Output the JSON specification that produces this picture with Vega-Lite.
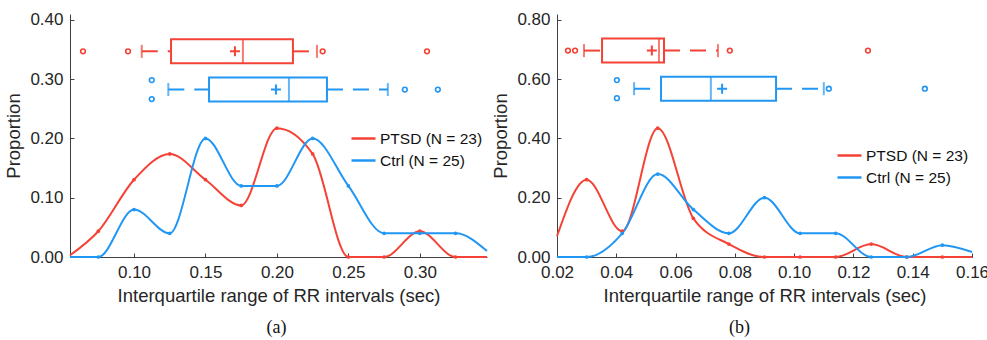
{
  "$schema": "https://vega.github.io/schema/vega-lite/v6.json",
  "padding": {"left": 4, "top": 10, "right": 0, "bottom": 0},
  "spacing": 0,
  "config": {
    "font": "Liberation Sans",
    "view": {"stroke": null},
    "axis": {
      "grid": false,
      "labelFontSize": 17,
      "titleFontSize": 18.5,
      "titleFontWeight": "normal",
      "labelColor": "#262626",
      "titleColor": "#262626",
      "domainColor": "#404040",
      "tickColor": "#404040",
      "tickSize": -4,
      "labelPadding": 11,
      "labelFlush": false,
      "labelOverlap": false,
      "domainWidth": 1,
      "labelFont": "Liberation Sans",
      "titleFont": "Liberation Sans"
    },
    "legend": {"labelFontSize": 15.5, "labelColor": "#111111", "labelFont": "Liberation Sans"}
  },
  "datasets": {
    "a_curve": [
      {"x": 0.0552, "p": 0.003, "group": "PTSD (N = 23)"},
      {"x": 0.075, "p": 0.0435, "group": "PTSD (N = 23)"},
      {"x": 0.1, "p": 0.1304, "group": "PTSD (N = 23)"},
      {"x": 0.125, "p": 0.1739, "group": "PTSD (N = 23)"},
      {"x": 0.15, "p": 0.1304, "group": "PTSD (N = 23)"},
      {"x": 0.175, "p": 0.087, "group": "PTSD (N = 23)"},
      {"x": 0.2, "p": 0.2174, "group": "PTSD (N = 23)"},
      {"x": 0.225, "p": 0.1739, "group": "PTSD (N = 23)"},
      {"x": 0.25, "p": 0.0, "group": "PTSD (N = 23)"},
      {"x": 0.275, "p": 0.0, "group": "PTSD (N = 23)"},
      {"x": 0.3, "p": 0.0435, "group": "PTSD (N = 23)"},
      {"x": 0.325, "p": 0.0, "group": "PTSD (N = 23)"},
      {"x": 0.347, "p": 0.0, "group": "PTSD (N = 23)"},
      {"x": 0.0552, "p": 0.0, "group": "Ctrl (N = 25)"},
      {"x": 0.075, "p": 0.0, "group": "Ctrl (N = 25)"},
      {"x": 0.1, "p": 0.08, "group": "Ctrl (N = 25)"},
      {"x": 0.125, "p": 0.04, "group": "Ctrl (N = 25)"},
      {"x": 0.15, "p": 0.2, "group": "Ctrl (N = 25)"},
      {"x": 0.175, "p": 0.12, "group": "Ctrl (N = 25)"},
      {"x": 0.2, "p": 0.12, "group": "Ctrl (N = 25)"},
      {"x": 0.225, "p": 0.2, "group": "Ctrl (N = 25)"},
      {"x": 0.25, "p": 0.12, "group": "Ctrl (N = 25)"},
      {"x": 0.275, "p": 0.04, "group": "Ctrl (N = 25)"},
      {"x": 0.3, "p": 0.04, "group": "Ctrl (N = 25)"},
      {"x": 0.325, "p": 0.04, "group": "Ctrl (N = 25)"},
      {"x": 0.347, "p": 0.01, "group": "Ctrl (N = 25)"}
    ],
    "a_box": [
      {"group": "PTSD (N = 23)", "ypos": 0.347, "q1": 0.1259, "med": 0.1762, "q3": 0.2112, "mean": 0.1706, "wlo": 0.1054, "whi": 0.228},
      {"group": "Ctrl (N = 25)", "ypos": 0.2825, "q1": 0.1525, "med": 0.2084, "q3": 0.235, "mean": 0.1993, "wlo": 0.124, "whi": 0.2776}
    ],
    "a_out": [
      {"group": "PTSD (N = 23)", "x": 0.0643, "y": 0.347},
      {"group": "PTSD (N = 23)", "x": 0.0958, "y": 0.347},
      {"group": "PTSD (N = 23)", "x": 0.232, "y": 0.347},
      {"group": "PTSD (N = 23)", "x": 0.305, "y": 0.347},
      {"group": "Ctrl (N = 25)", "x": 0.1124, "y": 0.2985},
      {"group": "Ctrl (N = 25)", "x": 0.1124, "y": 0.2664},
      {"group": "Ctrl (N = 25)", "x": 0.2895, "y": 0.2825},
      {"group": "Ctrl (N = 25)", "x": 0.3126, "y": 0.2825}
    ],
    "b_curve": [
      {"x": 0.02, "p": 0.07, "group": "PTSD (N = 23)"},
      {"x": 0.03, "p": 0.2609, "group": "PTSD (N = 23)"},
      {"x": 0.042, "p": 0.087, "group": "PTSD (N = 23)"},
      {"x": 0.054, "p": 0.4348, "group": "PTSD (N = 23)"},
      {"x": 0.066, "p": 0.1304, "group": "PTSD (N = 23)"},
      {"x": 0.078, "p": 0.0435, "group": "PTSD (N = 23)"},
      {"x": 0.09, "p": 0.0, "group": "PTSD (N = 23)"},
      {"x": 0.102, "p": 0.0, "group": "PTSD (N = 23)"},
      {"x": 0.114, "p": 0.0, "group": "PTSD (N = 23)"},
      {"x": 0.126, "p": 0.0435, "group": "PTSD (N = 23)"},
      {"x": 0.138, "p": 0.0, "group": "PTSD (N = 23)"},
      {"x": 0.15, "p": 0.0, "group": "PTSD (N = 23)"},
      {"x": 0.16, "p": 0.0, "group": "PTSD (N = 23)"},
      {"x": 0.02, "p": 0.0, "group": "Ctrl (N = 25)"},
      {"x": 0.03, "p": 0.0, "group": "Ctrl (N = 25)"},
      {"x": 0.042, "p": 0.08, "group": "Ctrl (N = 25)"},
      {"x": 0.054, "p": 0.28, "group": "Ctrl (N = 25)"},
      {"x": 0.066, "p": 0.16, "group": "Ctrl (N = 25)"},
      {"x": 0.078, "p": 0.08, "group": "Ctrl (N = 25)"},
      {"x": 0.09, "p": 0.2, "group": "Ctrl (N = 25)"},
      {"x": 0.102, "p": 0.08, "group": "Ctrl (N = 25)"},
      {"x": 0.114, "p": 0.08, "group": "Ctrl (N = 25)"},
      {"x": 0.126, "p": 0.0, "group": "Ctrl (N = 25)"},
      {"x": 0.138, "p": 0.0, "group": "Ctrl (N = 25)"},
      {"x": 0.15, "p": 0.04, "group": "Ctrl (N = 25)"},
      {"x": 0.16, "p": 0.017, "group": "Ctrl (N = 25)"}
    ],
    "b_box": [
      {"group": "PTSD (N = 23)", "ypos": 0.6965, "q1": 0.0352, "med": 0.0544, "q3": 0.0561, "mean": 0.052, "wlo": 0.0291, "whi": 0.0743},
      {"group": "Ctrl (N = 25)", "ypos": 0.568, "q1": 0.0551, "med": 0.0719, "q3": 0.0939, "mean": 0.0757, "wlo": 0.046, "whi": 0.11}
    ],
    "b_out": [
      {"group": "PTSD (N = 23)", "x": 0.0237, "y": 0.6965},
      {"group": "PTSD (N = 23)", "x": 0.0261, "y": 0.6965},
      {"group": "PTSD (N = 23)", "x": 0.0783, "y": 0.6965},
      {"group": "PTSD (N = 23)", "x": 0.1249, "y": 0.6965},
      {"group": "Ctrl (N = 25)", "x": 0.0402, "y": 0.597},
      {"group": "Ctrl (N = 25)", "x": 0.0402, "y": 0.536},
      {"group": "Ctrl (N = 25)", "x": 0.1117, "y": 0.568},
      {"group": "Ctrl (N = 25)", "x": 0.1441, "y": 0.568}
    ]
  },
  "resolve": {"scale": {"color": "independent", "x": "independent", "y": "independent"}, "legend": {"color": "independent"}},
  "hconcat": [
    {
      "width": 417,
      "height": 243,
      "title": {"text": "(a)", "orient": "bottom", "anchor": "middle", "frame": "group", "font": "Liberation Serif", "fontSize": 18, "fontWeight": "normal", "color": "#111111", "offset": 14, "dx": -2},
      "encoding": {
        "color": {"field": "group", "type": "nominal", "scale": {"domain": ["PTSD (N = 23)", "Ctrl (N = 25)"], "range": ["#F44336", "#2196F3"]}, "legend": null}
      },
      "layer": [
        {
          "data": {"name": "a_curve"},
          "mark": {"type": "line", "interpolate": "monotone", "strokeWidth": 2},
          "encoding": {
            "x": {"field": "x", "type": "quantitative", "scale": {"domain": [0.0552, 0.347], "nice": false, "zero": false, "padding": 0}, "axis": {"values": [0.1, 0.15, 0.2, 0.25, 0.3], "format": ".2f", "title": "Interquartile range of RR intervals (sec)", "titlePadding": 6}},
            "y": {"field": "p", "type": "quantitative", "scale": {"domain": [0, 0.41], "nice": false, "padding": 0}, "axis": {"values": [0, 0.1, 0.2, 0.3, 0.4], "format": ".2f", "title": "Proportion", "titlePadding": 6}},
            "color": {"field": "group", "type": "nominal", "legend": {"orient": "none", "legendX": 280, "legendY": 111, "title": null, "symbolType": "stroke", "symbolSize": 576, "symbolStrokeWidth": 2.5, "labelOffset": 3, "rowPadding": -2}}
          }
        },
        {
          "data": {"name": "a_curve"},
          "transform": [{"filter": "datum.x > 0.06 && datum.x < 0.34"}],
          "mark": {"type": "point", "filled": true, "size": 14, "opacity": 1},
          "encoding": {"x": {"field": "x", "type": "quantitative"}, "y": {"field": "p", "type": "quantitative"}}
        },
        {
          "data": {"name": "a_box"},
          "mark": {"type": "rule", "strokeWidth": 2, "strokeDash": [16, 10]},
          "encoding": {"x": {"field": "wlo", "type": "quantitative"}, "x2": {"field": "q1"}, "y": {"field": "ypos", "type": "quantitative"}}
        },
        {
          "data": {"name": "a_box"},
          "mark": {"type": "rule", "strokeWidth": 2, "strokeDash": [16, 10]},
          "encoding": {"x": {"field": "q3", "type": "quantitative"}, "x2": {"field": "whi"}, "y": {"field": "ypos", "type": "quantitative"}}
        },
        {
          "data": {"name": "a_box"},
          "mark": {"type": "bar", "orient": "horizontal", "filled": false, "fill": "white", "strokeWidth": 2, "size": 24},
          "encoding": {"x": {"field": "q1", "type": "quantitative"}, "x2": {"field": "q3"}, "y": {"field": "ypos", "type": "quantitative"}, "stroke": {"field": "group", "type": "nominal", "scale": {"domain": ["PTSD (N = 23)", "Ctrl (N = 25)"], "range": ["#F44336", "#2196F3"]}, "legend": null}}
        },
        {
          "data": {"name": "a_box"},
          "transform": [{"fold": ["med"], "as": ["k", "v"]}],
          "mark": {"type": "tick", "orient": "vertical", "thickness": 2, "size": 24},
          "encoding": {"x": {"field": "v", "type": "quantitative"}, "y": {"field": "ypos", "type": "quantitative"}}
        },
        {
          "data": {"name": "a_box"},
          "transform": [{"fold": ["wlo", "whi"], "as": ["k", "v"]}],
          "mark": {"type": "tick", "orient": "vertical", "thickness": 2, "size": 13},
          "encoding": {"x": {"field": "v", "type": "quantitative"}, "y": {"field": "ypos", "type": "quantitative"}}
        },
        {
          "data": {"name": "a_box"},
          "mark": {"type": "point", "shape": "M-1,0H1M0,-1V1", "filled": false, "strokeWidth": 2, "size": 100, "opacity": 1},
          "encoding": {"x": {"field": "mean", "type": "quantitative"}, "y": {"field": "ypos", "type": "quantitative"}}
        },
        {
          "data": {"name": "a_out"},
          "mark": {"type": "point", "filled": false, "strokeWidth": 1.6, "size": 22, "opacity": 1},
          "encoding": {"x": {"field": "x", "type": "quantitative"}, "y": {"field": "y", "type": "quantitative"}}
        }
      ]
    },
    {
      "width": 415,
      "height": 243,
      "title": {"text": "(b)", "orient": "bottom", "anchor": "middle", "frame": "group", "font": "Liberation Serif", "fontSize": 18, "fontWeight": "normal", "color": "#111111", "offset": 14, "dx": -25},
      "encoding": {
        "color": {"field": "group", "type": "nominal", "scale": {"domain": ["PTSD (N = 23)", "Ctrl (N = 25)"], "range": ["#F44336", "#2196F3"]}, "legend": null}
      },
      "layer": [
        {
          "data": {"name": "b_curve"},
          "mark": {"type": "line", "interpolate": "monotone", "strokeWidth": 2},
          "encoding": {
            "x": {"field": "x", "type": "quantitative", "scale": {"domain": [0.02, 0.16], "nice": false, "zero": false, "padding": 0}, "axis": {"values": [0.02, 0.04, 0.06, 0.08, 0.1, 0.12, 0.14, 0.16], "format": ".2f", "title": "Interquartile range of RR intervals (sec)", "titlePadding": 6}},
            "y": {"field": "p", "type": "quantitative", "scale": {"domain": [0, 0.82], "nice": false, "padding": 0}, "axis": {"values": [0, 0.2, 0.4, 0.6, 0.8], "format": ".2f", "title": "Proportion", "titlePadding": 6}},
            "color": {"field": "group", "type": "nominal", "legend": {"orient": "none", "legendX": 279, "legendY": 128, "title": null, "symbolType": "stroke", "symbolSize": 576, "symbolStrokeWidth": 2.5, "labelOffset": 3, "rowPadding": -2}}
          }
        },
        {
          "data": {"name": "b_curve"},
          "transform": [{"filter": "datum.x > 0.025 && datum.x < 0.155"}],
          "mark": {"type": "point", "filled": true, "size": 14, "opacity": 1},
          "encoding": {"x": {"field": "x", "type": "quantitative"}, "y": {"field": "p", "type": "quantitative"}}
        },
        {
          "data": {"name": "b_box"},
          "mark": {"type": "rule", "strokeWidth": 2, "strokeDash": [16, 10]},
          "encoding": {"x": {"field": "wlo", "type": "quantitative"}, "x2": {"field": "q1"}, "y": {"field": "ypos", "type": "quantitative"}}
        },
        {
          "data": {"name": "b_box"},
          "mark": {"type": "rule", "strokeWidth": 2, "strokeDash": [16, 10]},
          "encoding": {"x": {"field": "q3", "type": "quantitative"}, "x2": {"field": "whi"}, "y": {"field": "ypos", "type": "quantitative"}}
        },
        {
          "data": {"name": "b_box"},
          "mark": {"type": "bar", "orient": "horizontal", "filled": false, "fill": "white", "strokeWidth": 2, "size": 24},
          "encoding": {"x": {"field": "q1", "type": "quantitative"}, "x2": {"field": "q3"}, "y": {"field": "ypos", "type": "quantitative"}, "stroke": {"field": "group", "type": "nominal", "scale": {"domain": ["PTSD (N = 23)", "Ctrl (N = 25)"], "range": ["#F44336", "#2196F3"]}, "legend": null}}
        },
        {
          "data": {"name": "b_box"},
          "transform": [{"fold": ["med"], "as": ["k", "v"]}],
          "mark": {"type": "tick", "orient": "vertical", "thickness": 2, "size": 24},
          "encoding": {"x": {"field": "v", "type": "quantitative"}, "y": {"field": "ypos", "type": "quantitative"}}
        },
        {
          "data": {"name": "b_box"},
          "transform": [{"fold": ["wlo", "whi"], "as": ["k", "v"]}],
          "mark": {"type": "tick", "orient": "vertical", "thickness": 2, "size": 13},
          "encoding": {"x": {"field": "v", "type": "quantitative"}, "y": {"field": "ypos", "type": "quantitative"}}
        },
        {
          "data": {"name": "b_box"},
          "mark": {"type": "point", "shape": "M-1,0H1M0,-1V1", "filled": false, "strokeWidth": 2, "size": 100, "opacity": 1},
          "encoding": {"x": {"field": "mean", "type": "quantitative"}, "y": {"field": "ypos", "type": "quantitative"}}
        },
        {
          "data": {"name": "b_out"},
          "mark": {"type": "point", "filled": false, "strokeWidth": 1.6, "size": 22, "opacity": 1},
          "encoding": {"x": {"field": "x", "type": "quantitative"}, "y": {"field": "y", "type": "quantitative"}}
        }
      ]
    }
  ]
}
